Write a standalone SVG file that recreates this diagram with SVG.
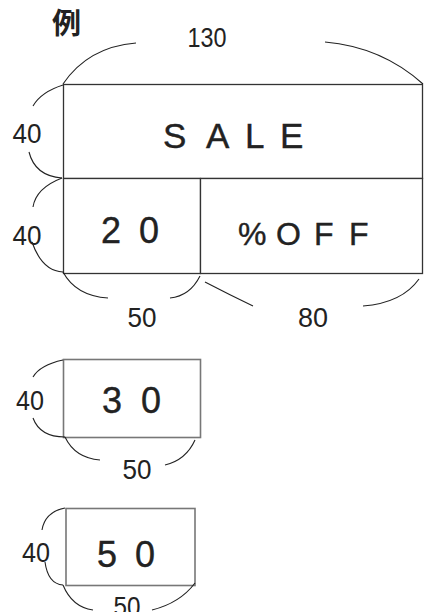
<svg xmlns="http://www.w3.org/2000/svg" width="424" height="612" viewBox="0 0 424 612">
<style>
.bg{fill:#fff}
.box{fill:#fff;stroke:#333;stroke-width:1.3}
.gbox{fill:#fff;stroke:#777;stroke-width:1.6}
.brace{fill:none;stroke:#222;stroke-width:1.1}
.dim{font-family:"Liberation Sans",Arial,sans-serif;font-size:27px;fill:#222;text-anchor:middle}
.big{font-family:"Liberation Sans","Noto Sans CJK JP",sans-serif;fill:#222;stroke:#222;stroke-width:0.4}
.title{font-family:"Noto Sans CJK JP","Noto Sans CJK SC",sans-serif;font-weight:bold;font-size:29px;fill:#222}
</style>
<rect class="bg" x="0" y="0" width="424" height="612"/>
<text class="title" x="52" y="34">例</text>
<g id="sale-sign">
  <rect class="box" x="63.5" y="84.5" width="359" height="94"/>
  <text class="big" x="163 206 245 280" y="148" font-size="35">SALE</text>
</g>
<g id="cell-20">
  <rect class="box" x="63.5" y="178.5" width="137" height="95"/>
  <text class="big" x="101 139" y="243" font-size="36">20</text>
</g>
<g id="cell-off">
  <rect class="box" x="200.5" y="178.5" width="222" height="95"/>
  <text class="big" x="238 276 314 349" y="245" font-size="32">%OFF</text>
</g>
<g id="box-30">
  <rect class="gbox" x="63.5" y="359.5" width="137" height="78"/>
  <text class="big" x="102 141" y="413" font-size="36">30</text>
</g>
<g id="box-50">
  <rect class="gbox" x="66" y="508.5" width="129" height="77"/>
  <text class="big" x="97 135" y="567" font-size="36">50</text>
</g>
<g id="connectors">
  <path class="brace" d="M63,84 Q88,47 136,43"/>
  <path class="brace" d="M325,42 Q382,47 423,84"/>
  <path class="brace" d="M63,85 Q41,92 33,106"/>
  <path class="brace" d="M29,152 Q35,176 62,178"/>
  <path class="brace" d="M62,178 Q36,188 33,207"/>
  <path class="brace" d="M32,242 Q42,271 63,272"/>
  <path class="brace" d="M63,272 Q76,296 108,298"/>
  <path class="brace" d="M170,298 Q190,296 200,276"/>
  <path class="brace" d="M205,282 Q230,295 253,306"/>
  <path class="brace" d="M363,306 Q402,303 419,279"/>
  <path class="brace" d="M63,360 Q40,365 33,377"/>
  <path class="brace" d="M33,418 Q40,437 65,437"/>
  <path class="brace" d="M65,437 Q75,458 100,460"/>
  <path class="brace" d="M165,465 Q186,460 195,440"/>
  <path class="brace" d="M65,508 Q45,512 42,530"/>
  <path class="brace" d="M45,562 Q48,584 63,585"/>
  <path class="brace" d="M63,585 Q72,607 93,610"/>
  <path class="brace" d="M152,610 Q180,603 195,583"/>
</g>
<g id="labels">
  <text class="dim" x="207" y="47" textLength="39" lengthAdjust="spacingAndGlyphs">130</text>
  <text class="dim" x="27" y="143" textLength="29" lengthAdjust="spacingAndGlyphs">40</text>
  <text class="dim" x="27" y="245" textLength="29" lengthAdjust="spacingAndGlyphs">40</text>
  <text class="dim" x="142" y="327" textLength="29" lengthAdjust="spacingAndGlyphs">50</text>
  <text class="dim" x="313" y="327" textLength="30" lengthAdjust="spacingAndGlyphs">80</text>
  <text class="dim" x="30" y="410" textLength="28" lengthAdjust="spacingAndGlyphs">40</text>
  <text class="dim" x="137" y="479" textLength="29" lengthAdjust="spacingAndGlyphs">50</text>
  <text class="dim" x="36" y="562" textLength="28" lengthAdjust="spacingAndGlyphs">40</text>
  <text class="dim" x="127" y="616" textLength="27" lengthAdjust="spacingAndGlyphs">50</text>
</g>
</svg>
